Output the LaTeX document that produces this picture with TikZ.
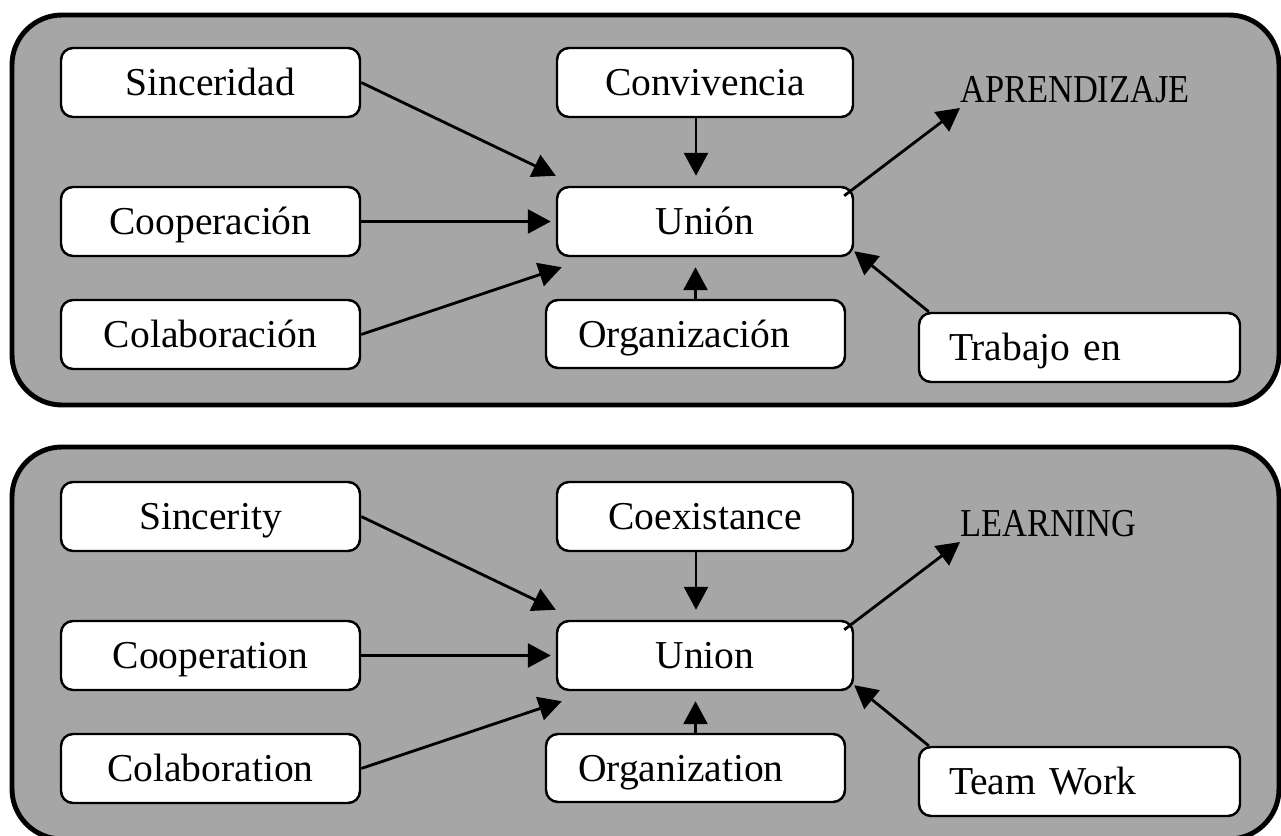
\documentclass[tikz,border=0pt]{standalone}
\usepackage{fontspec}
\setmainfont{Liberation Serif}
\usepackage{tikz}
\usetikzlibrary{arrows.meta,positioning,calc}
\definecolor{panelgray}{HTML}{A6A6A6}

\begin{document}
\begin{tikzpicture}[font=\fontsize{22.5}{27}\selectfont,
  panel/.style={draw=black,fill=panelgray,line width=2.8pt,rounded corners=1cm},
  box/.style={draw=black,fill=white,line width=1.4pt,rounded corners=0.24cm,
              minimum width=5.98cm,minimum height=1.38cm,inner sep=0pt,
              text height=15pt,text depth=0pt},
  midbox/.style={box,minimum width=5.92cm},
  leftbox/.style={box,align=left,inner xsep=0.6cm},
  tag/.style={anchor=base west,inner sep=0pt,xscale=0.87,transform shape},
  w/.style={-{Triangle[length=0.46cm,width=0.48cm]},black,line width=1.6pt}]

\useasboundingbox (0,0) rectangle (25.62,-16.72);

% ---------------- upper panel (Spanish) -------------------------------------
\draw[panel] (0.24,-0.30) rectangle (25.58,-8.10);

\node[box] (sincA)  at (4.21,-1.65) {Sinceridad};
\node[box] (coopA)  at (4.21,-4.43) {Cooperación};
\node[box] (colabA) at (4.21,-6.69) {Colaboración};
\node[midbox] (convA)  at (14.10,-1.65) {Convivencia};
\node[midbox] (unionA) at (14.10,-4.43) {Unión};
\node[leftbox,text width=4.7cm,minimum height=1.36cm] (orgA) at (13.91,-6.68) {Organización};
\node[leftbox,text width=5.22cm] (teamA) at (21.59,-6.95) {Trabajo en};
\node[tag] (goalA) at (19.20,-2.06) {APRENDIZAJE};

\draw[w] (sincA.east) -- ([yshift=0.2cm]unionA.north west);
\draw[w] (coopA.east) -- ([xshift=-0.1cm]unionA.west);
\draw[w] (colabA.east) -- ([xshift=0.12cm,yshift=-0.2cm]unionA.south west);
\draw[w] ([xshift=-0.18cm]convA.south) -- ([xshift=-0.18cm,yshift=0.2cm]unionA.north);
\draw[w] (orgA.north) -- ([yshift=-0.2cm]orgA.north |- unionA.south);
\draw[w] ([xshift=-0.2cm,yshift=-0.2cm]unionA.north east) -- ([yshift=-0.1cm]goalA.base west);
\draw[w] ([xshift=0.22cm]teamA.north west) -- ([yshift=0.12cm]unionA.south east);

% ---------------- lower panel (English) -------------------------------------
\draw[panel] (0.24,-8.94) rectangle (25.58,-16.78);

\node[box] (sincB)  at (4.21,-10.33) {Sincerity};
\node[box] (coopB)  at (4.21,-13.11) {Cooperation};
\node[box] (colabB) at (4.21,-15.37) {Colaboration};
\node[midbox] (convB)  at (14.10,-10.33) {Coexistance};
\node[midbox] (unionB) at (14.10,-13.11) {Union};
\node[leftbox,text width=4.7cm,minimum height=1.36cm] (orgB) at (13.91,-15.36) {Organization};
\node[leftbox,text width=5.22cm] (teamB) at (21.59,-15.63) {Team Work};
\node[tag] (goalB) at (19.20,-10.74) {LEARNING};

\draw[w] (sincB.east) -- ([yshift=0.2cm]unionB.north west);
\draw[w] (coopB.east) -- ([xshift=-0.1cm]unionB.west);
\draw[w] (colabB.east) -- ([xshift=0.12cm,yshift=-0.2cm]unionB.south west);
\draw[w] ([xshift=-0.18cm]convB.south) -- ([xshift=-0.18cm,yshift=0.2cm]unionB.north);
\draw[w] (orgB.north) -- ([yshift=-0.2cm]orgB.north |- unionB.south);
\draw[w] ([xshift=-0.2cm,yshift=-0.2cm]unionB.north east) -- ([yshift=-0.1cm]goalB.base west);
\draw[w] ([xshift=0.22cm]teamB.north west) -- ([yshift=0.12cm]unionB.south east);

\end{tikzpicture}
\end{document}
